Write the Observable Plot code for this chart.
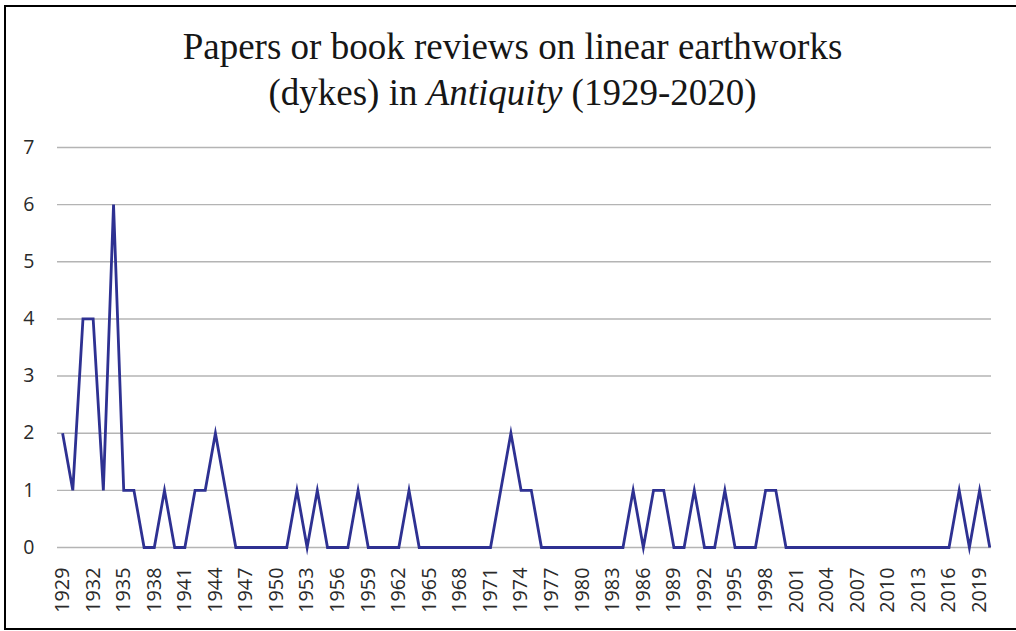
<!DOCTYPE html>
<html>
<head>
<meta charset="utf-8">
<script src="https://cdn.jsdelivr.net/npm/d3@7"></script>
<script src="https://cdn.jsdelivr.net/npm/@observablehq/plot@0.6"></script>
<style>
  html, body { margin: 0; padding: 0; background: #fff; width: 1016px; height: 631px; overflow: hidden; }
  #frame { position: absolute; left: 4px; top: 5px; width: 1016px; height: 625px; box-sizing: border-box;
           border-top: 2.5px solid #000; border-left: 2.5px solid #000; border-bottom: 2.5px solid #000; }
  #title { position: absolute; left: 0; top: 24px; width: 1025px; text-align: center;
           font-family: "Liberation Serif", "Times New Roman", serif; font-size: 37px; line-height: 46px; color: #161616; }
  #chart { position: absolute; left: 0; top: 125px; }
</style>
</head>
<body>
<div id="frame"></div>
<div id="title">Papers or book reviews on linear earthworks<br>(dykes) in <i>Antiquity</i> (1929-2020)</div>
<div id="chart"></div>
<script>
const years = d3.range(1929, 2021);
const counts = [
  2, 1, 4, 4, 1, 6, 1, 1, 0, 0,   // 1929-1938
  1, 0, 0, 1, 1, 2, 1, 0, 0, 0,   // 1939-1948
  0, 0, 0, 1, 0, 1, 0, 0, 0, 1,   // 1949-1958
  0, 0, 0, 0, 1, 0, 0, 0, 0, 0,   // 1959-1968
  0, 0, 0, 1, 2, 1, 1, 0, 0, 0,   // 1969-1978
  0, 0, 0, 0, 0, 0, 1, 0, 1, 1,   // 1979-1988
  0, 0, 1, 0, 0, 1, 0, 0, 0, 1,   // 1989-1998
  1, 0, 0, 0, 0, 0, 0, 0, 0, 0,   // 1999-2008
  0, 0, 0, 0, 0, 0, 0, 0, 1, 0,   // 2009-2018
  1, 0                            // 2019-2020
];
const xTickLabels = d3.range(1929, 2021, 3);
const yTickLabels = [0, 1, 2, 3, 4, 5, 6, 7];

const data = years.map((y, i) => ({year: y, count: counts[i]}));

const chart = Plot.plot({
  width: 1016,
  height: 506,
  marginLeft: 57,
  marginRight: 25,
  marginTop: 22,
  marginBottom: 84,
  style: { fontFamily: "'Open Sans', sans-serif", fontSize: "19.5px", color: "#2a2a2a", background: "transparent" },
  x: { type: "linear", domain: [1928.5, 2020.17], axis: null },
  y: { domain: [0, 7], axis: null },
  marks: [
    Plot.gridY(yTickLabels, { stroke: "#b4b4b4", strokeOpacity: 1, strokeWidth: 1.4 }),
    Plot.axisY(yTickLabels, { tickSize: 0, tickPadding: 23, label: null, fill: "#2a2a2a", fontSize: 19.5, tickFormat: d3.format("d") }),
    Plot.text(xTickLabels, { x: d => d, y: 0, text: d => String(d), rotate: -90, textAnchor: "end",
                              lineAnchor: "middle", dy: 20, fontSize: 19.8, fill: "#2a2a2a" }),
    Plot.line(data, { x: "year", y: "count", stroke: "#2e3192", strokeWidth: 2.8,
                      strokeLinejoin: "miter", strokeMiterlimit: 8, strokeLinecap: "butt" })
  ]
});
document.getElementById("chart").appendChild(chart);
</script>
</body>
</html>
